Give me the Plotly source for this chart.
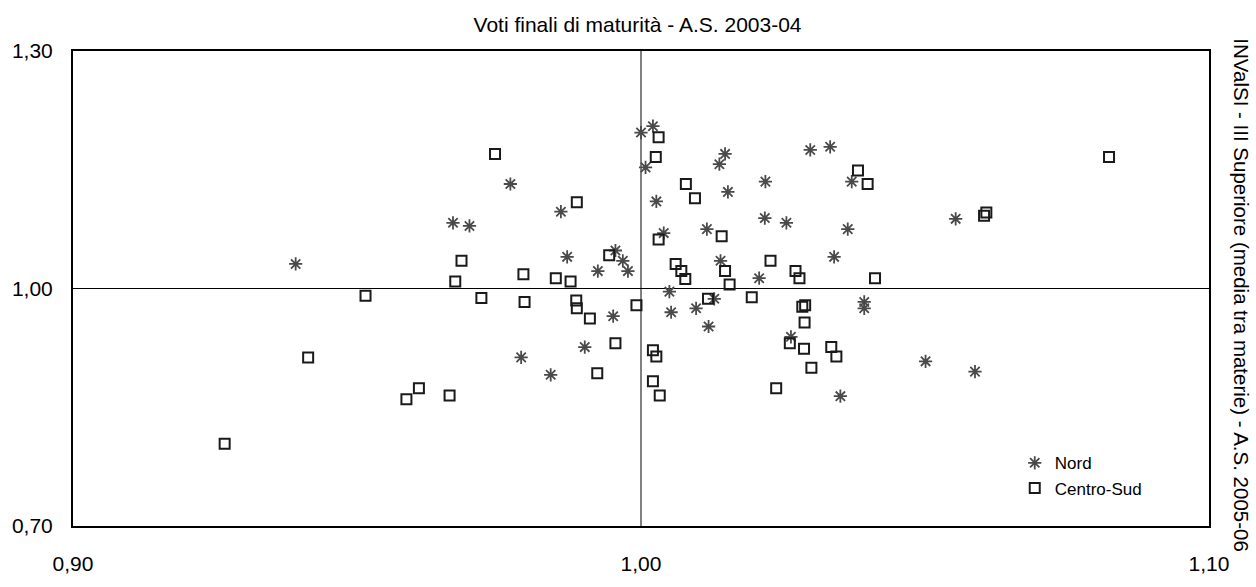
import plotly.graph_objects as go

# Voti finali di maturità (A.S. 2003-04) vs INValSI III Superiore (A.S. 2005-06)
nord_x = [1.0000, 1.0021, 1.0008, 0.9770, 0.9859, 0.9669, 0.9698, 1.0027, 1.0040,
          0.9870, 0.9955, 0.9968, 0.9924, 0.9977, 1.0148, 1.0138, 1.0298, 1.0219,
          1.0153, 1.0218, 1.0256, 1.0116, 1.0140, 1.0208, 1.0050, 1.0129, 1.0053,
          1.0097, 1.0119, 0.9951, 0.9901, 0.9789, 0.9841, 1.0264, 1.0333, 1.0371,
          1.0364, 1.0340, 1.0554, 1.0393, 1.0393, 1.0501, 1.0588, 1.0351, 0.9392]
nord_y = [1.197, 1.205, 1.153, 1.132, 1.097, 1.083, 1.079, 1.110, 1.070,
          1.040, 1.048, 1.035, 1.022, 1.022, 1.170, 1.157, 1.175, 1.135,
          1.122, 1.089, 1.083, 1.075, 1.035, 1.013, 0.996, 0.987, 0.970,
          0.975, 0.952, 0.965, 0.926, 0.913, 0.891, 0.939, 1.179, 1.135,
          1.075, 1.040, 1.088, 0.983, 0.975, 0.908, 0.895, 0.864, 1.031]

cs_x = [1.0031, 1.0026, 0.9743, 0.9887, 1.0079, 1.0095, 1.0031, 1.0142, 0.9684,
        0.9944, 0.9673, 0.9793, 0.9850, 0.9876, 1.0061, 1.0071, 1.0078, 1.0148,
        1.0156, 1.0228, 1.0272, 1.0279, 0.9719, 0.9795, 0.9886, 0.9887, 0.9910,
        0.9992, 1.0118, 1.0195, 1.0284, 1.0289, 1.0288, 1.0262, 1.0287, 1.0300,
        0.9955, 1.0021, 1.0027, 0.9923, 1.0021, 1.0033, 1.0238, 0.9609, 0.9663,
        0.9587, 1.0382, 1.0399, 1.0824, 1.0608, 1.0604, 1.0412, 1.0335, 1.0344,
        0.9515, 0.9414, 0.9267]
cs_y = [1.191, 1.166, 1.170, 1.109, 1.132, 1.114, 1.062, 1.066, 1.035,
        1.042, 1.009, 1.018, 1.013, 1.009, 1.031, 1.022, 1.012, 1.022,
        1.005, 1.035, 1.022, 1.013, 0.988, 0.983, 0.985, 0.975, 0.962,
        0.979, 0.987, 0.989, 0.977, 0.979, 0.957, 0.931, 0.924, 0.900,
        0.931, 0.922, 0.914, 0.893, 0.883, 0.865, 0.874, 0.874, 0.865,
        0.860, 1.149, 1.132, 1.166, 1.096, 1.092, 1.013, 0.926, 0.914,
        0.991, 0.913, 0.804]

x_ticks = [0.90, 1.00, 1.10]
y_ticks = [0.70, 1.00, 1.30]

FONT = "Liberation Sans, Arial, sans-serif"

fig = go.Figure()
fig.add_trace(go.Scatter(
    x=nord_x, y=nord_y, mode="markers", name="Nord",
    marker=dict(symbol="asterisk-open", size=11, color="#4a4a4a",
                line=dict(color="#4a4a4a", width=1.8)),
))
fig.add_trace(go.Scatter(
    x=cs_x, y=cs_y, mode="markers", name="Centro-Sud",
    marker=dict(symbol="square-open", size=10, color="#1a1a1a",
                line=dict(color="#1a1a1a", width=2)),
))

fig.update_layout(
    width=1256, height=587,
    margin=dict(l=66, r=47, t=51, b=42),
    paper_bgcolor="white", plot_bgcolor="white",
    font=dict(family=FONT, size=21, color="black"),
    separators=",.",
    title=dict(text="Voti finali di maturità - A.S. 2003-04", x=0.5076, xanchor="center",
               y=1 - 25 / 587, yanchor="middle", font=dict(size=21)),
    showlegend=True,
    legend=dict(x=0.829, y=0.17, xanchor="left", yanchor="top",
                font=dict(size=17), bgcolor="rgba(0,0,0,0)",
                itemwidth=30, tracegroupgap=0),
    xaxis=dict(range=[0.90, 1.10], tickvals=x_ticks, tickformat=".2f",
               showgrid=True, gridcolor="#808080", gridwidth=1.5,
               zeroline=False, showline=True, mirror=True,
               linecolor="black", linewidth=2, ticks="",
               ticklabelstandoff=18),
    yaxis=dict(range=[0.70, 1.30], tickvals=y_ticks, tickformat=".2f",
               showgrid=True, gridcolor="black", gridwidth=1.2,
               zeroline=False, showline=True, mirror=True,
               linecolor="black", linewidth=2, ticks="",
               ticklabelstandoff=14),
    annotations=[dict(
        text="INValSI - III Superiore (media tra materie) - A.S. 2005-06",
        xref="paper", yref="paper", x=1 + (1242 - 1209) / 1143, y=0.486,
        xanchor="center", yanchor="middle", textangle=90, showarrow=False,
        font=dict(size=20.5, color="black"),
    )],
)

fig.write_html("out.html")
